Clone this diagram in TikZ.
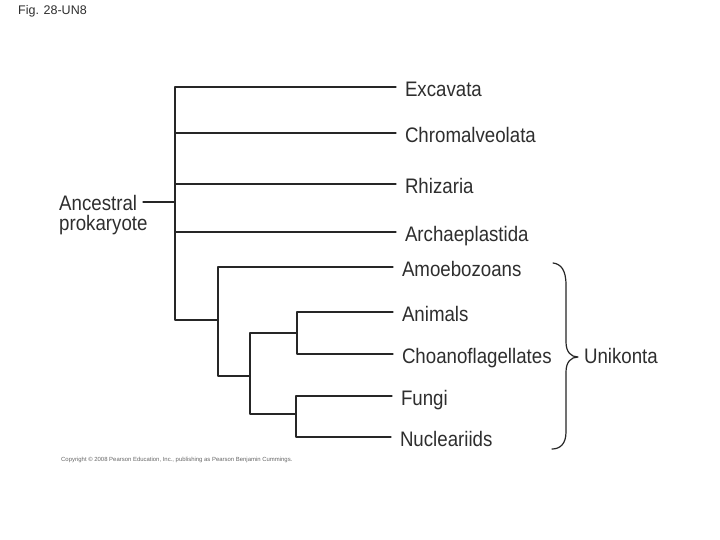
\documentclass[tikz,border=0pt]{standalone}
\usepackage{fontspec}
\setmainfont{Liberation Sans}
\newfontfamily\hand[FakeStretch=0.89]{Liberation Sans}
\begin{document}
\begin{tikzpicture}[x=1pt,y=-1pt,
  branch/.style={line width=1.3pt, draw=black!85, line cap=round, line join=round},
  taxon/.style={anchor=west, inner xsep=0pt, inner ysep=0pt, outer xsep=9pt,
    text height=19pt, text depth=0pt, font=\hand\fontsize{21}{21}\selectfont, text=black!82},
  plain/.style={inner sep=0pt, text=black!82}
]
\useasboundingbox[fill=white] (0,0) rectangle (720,540);

% title and credit
\node[plain, anchor=base west, font=\fontsize{12.5}{13}\selectfont] (fig) at (18,15) {Fig. 28-UN8};
\node[plain, anchor=base west, text=black!60, font=\fontsize{5.95}{6}\selectfont] (copy) at (61,461)
  {Copyright \textcopyright{} 2008 Pearson Education, Inc., publishing as Pearson Benjamin Cummings.};

% taxa
\node[taxon] (ex) at (396,87)  {Excavata};
\node[taxon] (ch) at (396,133) {Chromalveolata};
\node[taxon] (rh) at (396,184) {Rhizaria};
\node[taxon] (ar) at (396,232) {Archaeplastida};
\node[taxon] (am) at (393,267) {Amoebozoans};
\node[taxon] (an) at (393,312) {Animals};
\node[taxon] (co) at (393,354) {Choanoflagellates};
\node[taxon] (fu) at (392,396) {Fungi};
\node[taxon] (nu) at (391,437) {Nucleariids};

% ancestor label
\node[plain, anchor=north west, align=left, font=\hand\fontsize{21}{20}\selectfont] (anc) at (59,195)
  {Ancestral\\prokaryote};
\coordinate (ancend) at (143,202);

% internal nodes
\coordinate (r) at (175,202);
\coordinate (u) at (218,320);
\coordinate (o) at (250,376);
\coordinate (a) at (297,333);
\coordinate (f) at (296,414);

% branches
\draw[branch] (ex.west) -| (r) |- (u);
\draw[branch] (ch.west) -- (ch.west -| r);
\draw[branch] (rh.west) -- (rh.west -| r);
\draw[branch] (ar.west) -- (ar.west -| r);
\draw[branch] (ancend) -- (r);
\draw[branch] (am.west) -| (u) |- (o);
\draw[branch] (an.west) -| (a) |- (co.west);
\draw[branch] (a) -| (o) |- (f);
\draw[branch] (fu.west) -| (f) |- (nu.west);

% brace
\coordinate (btop) at (553,263);
\coordinate (btip) at (578,357);
\coordinate (bbot) at (552,449);
\draw[branch, line width=1.2pt] (btop) .. controls (561,264) and (566,270) .. (566,285)
  -- (566,342) .. controls (566,352) and (571,357) .. (btip)
  .. controls (571,357) and (566,362) .. (566,372)
  -- (566,432) .. controls (566,444) and (560,449) .. (bbot);
\node[taxon, outer xsep=0pt] (uni) at (584,354) {Unikonta};
\end{tikzpicture}
\end{document}
